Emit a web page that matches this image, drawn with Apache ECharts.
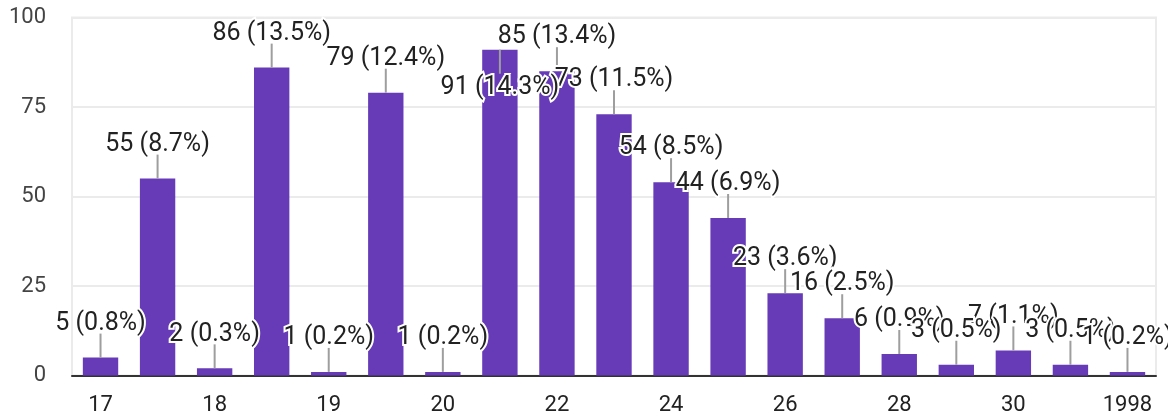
<!DOCTYPE html>
<html>
<head>
<meta charset="utf-8">
<style>
  html, body { margin: 0; padding: 0; background: #fff; }
  #chart { width: 1168px; height: 417px; }
</style>
<script src="https://cdn.jsdelivr.net/npm/echarts@6/dist/echarts.min.js"></script>
</head>
<body>
<div id="chart"></div>
<script>
// answers as Google Forms sorted them (every other label is hidden by the axis)
const categories = ["17", "17 ", "18", "18 ", "19", "19 ", "20", "21", "22", "23",
  "24", "25", "26", "27", "28", "29", "30", "31", "1998"];
const counts = [5, 55, 2, 86, 1, 79, 1, 91, 85, 73, 54, 44, 23, 16, 6, 3, 7, 3, 1];
const yTicks = [0, 25, 50, 75, 100];

const total = counts.reduce((a, b) => a + b, 0);
const labelText = v => v + " (" + (v / total * 100).toFixed(1) + "%)";

const chart = echarts.init(document.getElementById("chart"));

// leader line + label, placed like the Google chart: 24px stalk above the bar,
// flipped below the bar top when the label would leave the plot area
function renderLabel(params, api) {
  const idx = api.value(0);
  const v = api.value(1);
  const top = api.coord([idx, v]);
  const gridTop = params.coordSys.y;
  const stalk = 24;
  let y1 = top[1], y2, ty;
  if (top[1] - stalk - 22 < gridTop) {
    y2 = top[1] + stalk;
    ty = top[1] + 38;
  } else {
    y2 = top[1] - stalk;
    ty = top[1] - 34;
  }
  return {
    type: "group",
    children: [
      {
        type: "line",
        z2: 1,
        shape: { x1: top[0], y1: y1, x2: top[0], y2: y2 },
        style: { stroke: "#9e9e9e", lineWidth: 2 }
      },
      {
        type: "text",
        z2: 1000 + Math.round(ty),
        x: top[0],
        y: ty,
        style: {
          text: labelText(v),
          align: "center",
          verticalAlign: "middle",
          fill: "#222",
          fontSize: 25,
          fontFamily: "Roboto",
          stroke: "#fff",
          lineWidth: 4
        }
      }
    ]
  };
}

chart.setOption({
  animation: false,
  grid: {
    left: 72, right: 12, top: 17.5, bottom: 41.5,
    show: true, borderColor: "#ebebeb", borderWidth: 2
  },
  xAxis: {
    type: "category",
    data: categories,
    axisLine: { lineStyle: { color: "#333", width: 2 } },
    axisTick: { show: false },
    axisLabel: {
      interval: 1, color: "#222", fontSize: 22, fontFamily: "Roboto", margin: 19
    }
  },
  yAxis: {
    type: "value",
    min: yTicks[0],
    max: yTicks[yTicks.length - 1],
    interval: 25,
    axisLine: { show: false },
    axisTick: { show: false },
    splitLine: { lineStyle: { color: "#ebebeb", width: 2 } },
    axisLabel: { color: "#444", fontSize: 22, fontFamily: "Roboto", margin: 26 }
  },
  series: [
    {
      type: "bar",
      data: counts,
      barCategoryGap: "38%",
      itemStyle: { color: "#673ab7" },
      z: 2
    },
    {
      type: "custom",
      data: counts.map((v, i) => [i, v]),
      renderItem: renderLabel,
      z: 3,
      silent: true
    }
  ]
});
</script>
</body>
</html>
